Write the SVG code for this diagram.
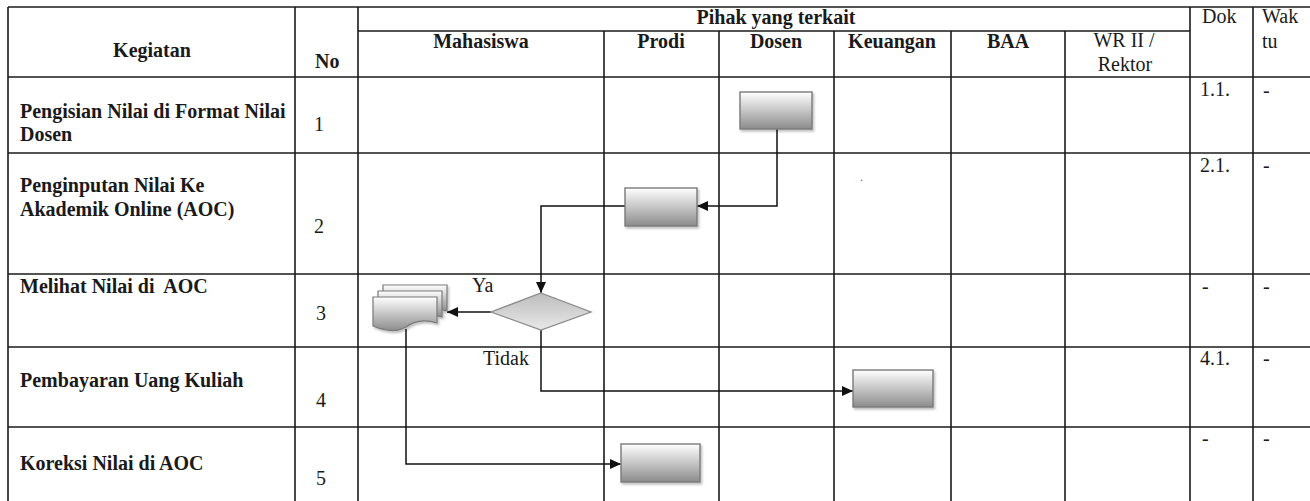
<svg xmlns="http://www.w3.org/2000/svg" width="1310" height="501" viewBox="0 0 1310 501">
<style>
.grid line{stroke:#1a1a1a;stroke-width:1.6}
.h{font-family:"Liberation Serif","Times New Roman",serif;font-size:20px;font-weight:bold;fill:#1a1a1a}
.r{font-family:"Liberation Serif","Times New Roman",serif;font-size:20px;fill:#1a1a1a}
.m{text-anchor:middle}
.pre{white-space:pre}
.box{fill:url(#boxg);stroke:#7a7a7a;stroke-width:1.4;filter:url(#sh)}
.doc{fill:url(#boxg);stroke:#7a7a7a;stroke-width:1.2}
.conn path{fill:none;stroke:#111;stroke-width:1.5;marker-end:url(#arr)}
</style>
<defs>
<linearGradient id="boxg" x1="0" y1="0" x2="0" y2="1">
<stop offset="0" stop-color="#ffffff"/>
<stop offset="1" stop-color="#8c8c8c"/>
</linearGradient>
<linearGradient id="diag" x1="0" y1="0" x2="0" y2="1">
<stop offset="0" stop-color="#bdbdbd"/>
<stop offset="1" stop-color="#e8e8e8"/>
</linearGradient>
<filter id="sh" x="-10%" y="-10%" width="130%" height="140%">
<feDropShadow dx="1.5" dy="2" stdDeviation="1.2" flood-color="#000" flood-opacity="0.25"/>
</filter>
<marker id="arr" markerUnits="userSpaceOnUse" markerWidth="12" markerHeight="10" refX="11" refY="5" orient="auto">
<path d="M0,0 L11,5 L0,10 z" fill="#111"/>
</marker>
</defs>
<rect width="1310" height="501" fill="#fff"/>

<g id="table" class="grid">
<line x1="8" y1="7" x2="1310" y2="7"/>
<line x1="358" y1="31" x2="1190" y2="31"/>
<line x1="8" y1="77" x2="1310" y2="77"/>
<line x1="8" y1="153" x2="1310" y2="153"/>
<line x1="8" y1="274" x2="1310" y2="274"/>
<line x1="8" y1="347" x2="1310" y2="347"/>
<line x1="8" y1="427" x2="1310" y2="427"/>
<line x1="8" y1="7" x2="8" y2="501"/>
<line x1="295" y1="7" x2="295" y2="501"/>
<line x1="358" y1="7" x2="358" y2="501"/>
<line x1="604" y1="31" x2="604" y2="501"/>
<line x1="719" y1="31" x2="719" y2="501"/>
<line x1="834" y1="31" x2="834" y2="501"/>
<line x1="951" y1="31" x2="951" y2="501"/>
<line x1="1065" y1="31" x2="1065" y2="501"/>
<line x1="1190" y1="7" x2="1190" y2="501"/>
<line x1="1253" y1="7" x2="1253" y2="501"/>
</g>

<g id="header">
<text class="h m" x="152" y="57">Kegiatan</text>
<text class="h" x="315" y="68">No</text>
<text class="h m" x="776" y="24">Pihak yang terkait</text>
<text class="h m" x="481" y="48">Mahasiswa</text>
<text class="h m" x="661" y="48">Prodi</text>
<text class="h m" x="776" y="48">Dosen</text>
<text class="h m" x="892" y="48">Keuangan</text>
<text class="h m" x="1008" y="48">BAA</text>
<text class="r m" x="1124" y="47">WR II /</text>
<text class="r m" x="1125" y="71">Rektor</text>
<text class="r" x="1202" y="23">Dok</text>
<text class="r" x="1262" y="23">Wak</text>
<text class="r" x="1262" y="48">tu</text>
</g>

<g id="rows">
<text class="h" x="20" y="118">Pengisian Nilai di Format Nilai</text>
<text class="h" x="20" y="141">Dosen</text>
<text class="r" x="314" y="131">1</text>
<text class="h" x="20" y="192">Penginputan Nilai Ke</text>
<text class="h" x="20" y="216">Akademik Online (AOC)</text>
<text class="r" x="314" y="233">2</text>
<text class="h pre" x="20" y="293">Melihat Nilai di  AOC</text>
<text class="r" x="316" y="320">3</text>
<text class="h" x="20" y="387">Pembayaran Uang Kuliah</text>
<text class="r" x="316" y="407">4</text>
<text class="h" x="20" y="470">Koreksi Nilai di AOC</text>
<text class="r" x="316" y="485">5</text>
<text class="r" x="1200" y="96">1.1.</text>
<text class="r" x="1200" y="172">2.1.</text>
<text class="r" x="1202" y="293">-</text>
<text class="r" x="1200" y="365">4.1.</text>
<text class="r" x="1202" y="445">-</text>
<text class="r" x="1263" y="97">-</text>
<text class="r" x="1263" y="172">-</text>
<text class="r" x="1263" y="293">-</text>
<text class="r" x="1263" y="365">-</text>
<text class="r" x="1263" y="445">-</text>
<text class="r" x="860" y="181" style="font-size:12px;fill:#666">.</text>
</g>

<g id="connectors" class="conn">
<path d="M777,129 V206 H697"/>
<path d="M625,206 H541 V293"/>
<path d="M491,312 H447"/>
<path d="M541,330 V391 H853"/>
<path d="M406,329 V464 H621"/>
</g>

<g id="labels">
<text class="r" x="472" y="292">Ya</text>
<text class="r" x="483" y="365">Tidak</text>
</g>

<g id="n1-dosen"><rect class="box" x="740" y="92" width="72" height="37"/></g>
<g id="n2-prodi"><rect class="box" x="625" y="188" width="72" height="38"/></g>
<g id="n3-decision"><path d="M541,293 L591,312 L541,330 L491,312 Z" fill="url(#diag)" stroke="#8a8a8a" stroke-width="1.3"/></g>
<g id="n3-multidoc" style="filter:url(#sh)">
<path class="doc" d="M383,285 H447 V311 C440,309 436,309 433,311 L383,311 Z"/>
<path class="doc" d="M378,291 H442 V317 C435,315 431,315 428,317 L378,317 Z"/>
<path class="doc" d="M373,297 H437 V323 C425,319 414,321 406,327 C396,333 385,331 373,326 Z"/>
</g>
<g id="n4-keuangan"><rect class="box" x="853" y="370" width="80" height="37"/></g>
<g id="n5-prodi"><rect class="box" x="621" y="444" width="79" height="38"/></g>
</svg>
